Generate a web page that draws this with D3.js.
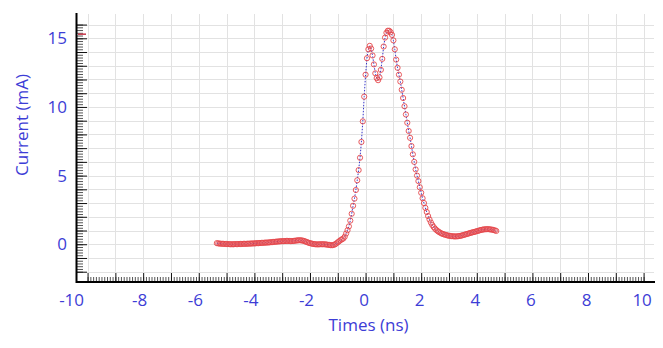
<!DOCTYPE html>
<html>
<head>
<meta charset="utf-8">
<script src="https://cdn.jsdelivr.net/npm/d3@7"></script>
<style>
    body { margin: 0; background: #fff; }
    svg { display: block; font-family: "Segoe UI", "Open Sans", sans-serif; }
</style>
</head>
<body>
<svg id="chart"></svg>
<script>
// sample times (ns)
const times = [
    -5.35, -5.30, -5.25, -5.20, -5.15, -5.10, -5.05, -5.00, -4.95, -4.90,
    -4.85, -4.80, -4.75, -4.70, -4.65, -4.60, -4.55, -4.50, -4.45, -4.40,
    -4.35, -4.30, -4.25, -4.20, -4.15, -4.10, -4.05, -4.00, -3.95, -3.90,
    -3.85, -3.80, -3.75, -3.70, -3.65, -3.60, -3.55, -3.50, -3.45, -3.40,
    -3.35, -3.30, -3.25, -3.20, -3.15, -3.10, -3.05, -3.00, -2.95, -2.90,
    -2.85, -2.80, -2.75, -2.70, -2.65, -2.60, -2.55, -2.50, -2.45, -2.40,
    -2.35, -2.30, -2.25, -2.20, -2.15, -2.10, -2.05, -2.00, -1.95, -1.90,
    -1.85, -1.80, -1.75, -1.70, -1.65, -1.60, -1.55, -1.50, -1.45, -1.40,
    -1.35, -1.30, -1.25, -1.20, -1.15, -1.10, -1.05, -1.00, -0.95, -0.90,
    -0.85, -0.80, -0.75, -0.70, -0.65, -0.60, -0.55, -0.50, -0.45, -0.40,
    -0.35, -0.30, -0.25, -0.20, -0.15, -0.10, -0.05, 0.00, 0.05, 0.10,
    0.15, 0.20, 0.25, 0.30, 0.35, 0.40, 0.45, 0.50, 0.55, 0.60,
    0.65, 0.70, 0.75, 0.80, 0.85, 0.90, 0.95, 1.00, 1.05, 1.10,
    1.15, 1.20, 1.25, 1.30, 1.35, 1.40, 1.45, 1.50, 1.55, 1.60,
    1.65, 1.70, 1.75, 1.80, 1.85, 1.90, 1.95, 2.00, 2.05, 2.10,
    2.15, 2.20, 2.25, 2.30, 2.35, 2.40, 2.45, 2.50, 2.55, 2.60,
    2.65, 2.70, 2.75, 2.80, 2.85, 2.90, 2.95, 3.00, 3.05, 3.10,
    3.15, 3.20, 3.25, 3.30, 3.35, 3.40, 3.45, 3.50, 3.55, 3.60,
    3.65, 3.70, 3.75, 3.80, 3.85, 3.90, 3.95, 4.00, 4.05, 4.10,
    4.15, 4.20, 4.25, 4.30, 4.35, 4.40, 4.45, 4.50, 4.55, 4.60,
    4.65, 4.70
];

// measured current (mA)
const current = [
    0.08, 0.06, 0.05, 0.04, 0.03, 0.03, 0.02, 0.02, 0.01, 0.01,
    0.00, 0.00, 0.00, 0.01, 0.01, 0.01, 0.02, 0.02, 0.02, 0.03,
    0.03, 0.03, 0.04, 0.04, 0.05, 0.05, 0.06, 0.06, 0.07, 0.08,
    0.08, 0.09, 0.10, 0.10, 0.11, 0.12, 0.12, 0.13, 0.14, 0.15,
    0.16, 0.17, 0.18, 0.19, 0.20, 0.21, 0.22, 0.22, 0.23, 0.23,
    0.24, 0.24, 0.24, 0.23, 0.23, 0.24, 0.25, 0.27, 0.28, 0.29,
    0.29, 0.28, 0.26, 0.23, 0.19, 0.15, 0.11, 0.08, 0.05, 0.03,
    0.01, 0.00, -0.01, -0.01, 0.00, 0.00, 0.00, 0.00, -0.01, -0.02,
    -0.04, -0.05, -0.07, -0.07, -0.05, -0.01, 0.06, 0.14, 0.22, 0.30,
    0.36, 0.42, 0.55, 0.78, 1.02, 1.30, 1.72, 2.22, 2.80, 3.32,
    3.95, 4.66, 5.40, 6.30, 7.45, 8.95, 10.75, 12.35, 13.55, 14.20,
    14.45, 14.25, 13.75, 13.10, 12.45, 12.10, 11.95, 12.15, 12.70, 13.50,
    14.40, 15.05, 15.40, 15.55, 15.55, 15.45, 15.25, 14.85, 14.20, 13.45,
    12.85, 12.35, 11.85, 11.25, 10.65, 10.05, 9.45, 8.85, 8.25, 7.75,
    7.15, 6.55, 6.00, 5.45, 5.00, 4.60, 4.15, 3.75, 3.35, 3.00,
    2.65, 2.35, 2.05, 1.80, 1.58, 1.40, 1.25, 1.13, 1.03, 0.95,
    0.88, 0.82, 0.77, 0.73, 0.70, 0.67, 0.64, 0.62, 0.60, 0.59,
    0.58, 0.57, 0.57, 0.58, 0.59, 0.61, 0.63, 0.66, 0.69, 0.72,
    0.75, 0.78, 0.81, 0.84, 0.87, 0.89, 0.92, 0.95, 0.98, 1.01,
    1.04, 1.06, 1.08, 1.09, 1.10, 1.10, 1.09, 1.08, 1.06, 1.04,
    1.01, 0.97
];

const xLabels = [-10, -8, -6, -4, -2, 0, 2, 4, 6, 8, 10];
const yLabels = [0, 5, 10, 15];
const markerLevel = 15.3; // red cursor mark on the y axis

const width = 663, height = 348;
const textColor = "#3d3dd6";

let svg = d3.select("#chart")
    .attr("width", width)
    .attr("height", height);

// scales
let x = d3.scaleLinear().domain([-10.38, 10.41]).range([77, 655]);
let y = d3.scaleLinear().domain([-2.75, 16.77]).range([282, 14]);

// grid
let grid = svg.append("g").attr("class", "grid")
    .attr("stroke", "#e2e2e2")
    .attr("stroke-width", 1);

grid.selectAll(".vgrid")
    .data(d3.range(-10, 11))
    .enter().append("line")
    .attr("x1", d => Math.round(x(d)) + 0.5)
    .attr("x2", d => Math.round(x(d)) + 0.5)
    .attr("y1", y(16.77))
    .attr("y2", y(-2));

grid.selectAll(".hgrid")
    .data(d3.range(-2, 17))
    .enter().append("line")
    .attr("x1", 77)
    .attr("x2", 654)
    .attr("y1", d => Math.round(y(d)) + 0.5)
    .attr("y2", d => Math.round(y(d)) + 0.5);

// data series
let points = times.map((t, i) => ({ t: t, v: current[i] }));

let line = d3.line()
    .x(d => x(d.t))
    .y(d => y(d.v));

svg.append("path")
    .datum(points)
    .attr("d", line)
    .attr("fill", "none")
    .attr("stroke", "#3535c8")
    .attr("stroke-width", 1)
    .attr("stroke-dasharray", "1.5,1.5");

svg.append("g")
    .selectAll("circle")
    .data(points)
    .enter().append("circle")
    .attr("cx", d => x(d.t))
    .attr("cy", d => y(d.v))
    .attr("r", 2.6)
    .attr("fill", "none")
    .attr("stroke", "#e4474c")
    .attr("stroke-width", 0.9);

// y axis ticks (drawn inside, to the right of the axis line)
let yMinor = svg.append("g")
    .attr("transform", "translate(77,0)")
    .call(d3.axisRight(y).tickValues(d3.range(-2, 16.01, 0.2)).tickSize(6).tickFormat(""));
yMinor.select(".domain").remove();
yMinor.selectAll("line").attr("stroke", "#555");

let yMajor = svg.append("g")
    .attr("transform", "translate(77,0)")
    .call(d3.axisRight(y).tickValues(d3.range(-2, 17)).tickSize(10).tickFormat(""));
yMajor.select(".domain").remove();
yMajor.selectAll("line").attr("stroke", "#111");

// x axis ticks (drawn upward)
let xMinor = svg.append("g")
    .attr("transform", "translate(0,282)")
    .call(d3.axisTop(x).tickValues(d3.range(-10, 10.01, 0.1)).tickSize(5).tickFormat(""));
xMinor.select(".domain").remove();
xMinor.selectAll("line").attr("stroke", "#555");

let xMajor = svg.append("g")
    .attr("transform", "translate(0,282)")
    .call(d3.axisTop(x).tickValues(d3.range(-10, 11)).tickSize(9).tickFormat(""));
xMajor.select(".domain").remove();
xMajor.selectAll("line").attr("stroke", "#111");

// axis lines
svg.append("line")
    .attr("x1", 76.5).attr("x2", 76.5)
    .attr("y1", 13).attr("y2", 283)
    .attr("stroke", "#000").attr("stroke-width", 2);
svg.append("line")
    .attr("x1", 76).attr("x2", 655)
    .attr("y1", 282).attr("y2", 282)
    .attr("stroke", "#000").attr("stroke-width", 2);

// red cursor mark
svg.append("line")
    .attr("x1", 78).attr("x2", 86)
    .attr("y1", y(markerLevel)).attr("y2", y(markerLevel))
    .attr("stroke", "#c8364a").attr("stroke-width", 1.5);

// tick labels, plain hyphen for negatives
let plain = d => String(d);

let yLab = svg.append("g")
    .attr("transform", "translate(77,0)")
    .call(d3.axisLeft(y).tickValues(yLabels).tickSize(0).tickPadding(10).tickFormat(plain));
yLab.select(".domain").remove();
yLab.selectAll("text")
    .attr("fill", textColor)
    .style("font-size", "17px")
    .style("font-family", "'Segoe UI', 'Open Sans', sans-serif");

let xLab = svg.append("g")
    .attr("transform", "translate(0,282)")
    .call(d3.axisBottom(x).tickValues(xLabels).tickSize(0).tickPadding(12).tickFormat(plain));
xLab.select(".domain").remove();
xLab.selectAll("text")
    .attr("fill", textColor)
    .style("font-size", "17px")
    .style("font-family", "'Segoe UI', 'Open Sans', sans-serif")
    .attr("dx", d => d < 0 ? -4 : -2);
// first label sits left of its tick, clear of the y axis
xLab.selectAll("text").filter(d => d === -10)
    .attr("text-anchor", "end")
    .attr("dx", 0)
    .attr("x", -4);

// axis titles
svg.append("text")
    .attr("transform", "translate(28,125) rotate(-90)")
    .attr("text-anchor", "middle")
    .attr("fill", textColor)
    .style("font-size", "17px")
    .text("Current (mA)");

svg.append("text")
    .attr("x", 368.5)
    .attr("y", 331)
    .attr("text-anchor", "middle")
    .attr("fill", textColor)
    .style("font-size", "17px")
    .text("Times (ns)");
</script>
</body>
</html>
